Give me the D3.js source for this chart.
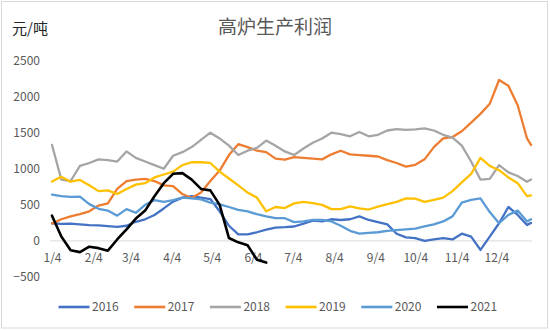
<!DOCTYPE html>
<html><head><meta charset="utf-8">
<script src="https://cdn.jsdelivr.net/npm/d3@7"></script>
<style>
body{margin:0;background:#fff}
svg{display:block}
text{font-family:"Noto Sans CJK SC","Noto Sans",sans-serif}
</style>
</head><body>
<svg id="c" width="550" height="330"></svg>
<script>
// ---- data ----
const dates = ["1/4","1/11","1/18","1/25","2/1","2/8","2/15","2/22","3/1","3/8","3/15","3/22","3/29",
"4/5","4/12","4/19","4/26","5/3","5/10","5/17","5/24","5/31","6/7","6/14","6/21","6/28",
"7/5","7/12","7/19","7/26","8/2","8/9","8/16","8/23","8/30","9/6","9/13","9/20","9/27",
"10/4","10/11","10/18","10/25","11/1","11/8","11/15","11/22","11/29","12/6","12/13","12/20","12/27","12/30"];
const xTickLabels = ["1/4","2/4","3/4","4/4","5/4","6/4","7/4","8/4","9/4","10/4","11/4","12/4"];
const yTicks = [-500,0,500,1000,1500,2000,2500];
const seriesNames = ["2016","2017","2018","2019","2020","2021"];
const seriesColors = ["#4472C4","#ED7D31","#A5A5A5","#FFC000","#5B9BD5","#000000"];

const s2016 = [245,235,240,230,220,215,205,195,210,265,300,360,450,545,600,620,600,580,410,210,90,90,120,155,185,190,200,240,280,270,300,290,300,340,290,260,230,100,50,40,0,20,40,20,100,60,-125,60,245,470,360,220,250];
const s2017 = [240,300,340,370,410,490,520,720,830,850,860,830,770,760,650,595,670,830,975,1190,1340,1300,1250,1230,1140,1125,1160,1150,1140,1130,1200,1250,1200,1190,1180,1170,1120,1080,1030,1055,1130,1300,1420,1440,1520,1640,1760,1900,2230,2150,1880,1420,1330];
const s2018 = [1330,850,830,1040,1080,1130,1120,1100,1240,1150,1100,1050,1000,1180,1230,1300,1400,1500,1420,1320,1190,1250,1290,1390,1320,1240,1190,1280,1360,1420,1500,1480,1450,1510,1450,1470,1530,1550,1540,1545,1560,1530,1470,1430,1320,1100,850,860,1050,950,900,820,850];
const s2019 = [824,890,820,845,770,690,700,650,720,780,800,880,920,960,1050,1090,1090,1080,960,865,770,670,600,410,470,455,520,540,525,500,440,440,480,450,435,475,510,540,590,585,540,570,600,690,810,930,1150,1040,980,880,800,620,630];
const s2020 = [640,620,610,615,510,445,420,350,440,390,500,565,540,565,600,590,575,530,505,470,430,410,370,340,315,315,260,270,290,290,270,210,140,100,110,120,140,150,160,170,200,230,270,340,530,570,590,400,245,360,420,270,300];
const s2021 = [350,60,-130,-155,-80,-100,-135,20,160,310,420,620,800,930,940,850,720,700,500,40,-20,-60,-260,-300,
null,null,null,null,null,null,null,null,null,null,null,null,null,null,null,null,null,null,null,null,null,null,null,null,null,null,null,null,null];
const seriesValues = [s2016,s2017,s2018,s2019,s2020,s2021];

// ---- chart ----
const svg = d3.select("#c");
const parse = s => { const [m,d] = s.split("/").map(Number); return new Date(2019, m-1, d); };
const x = d3.scaleTime().domain([new Date(2019,0,4), new Date(2019,11,30)]).range([52,531]);
const y = d3.scaleLinear().domain([-500,2500]).range([277,60.5]);

svg.append("rect").attr("x",1.5).attr("y",1.5).attr("width",546).attr("height",326.5)
  .attr("fill","#fff").attr("stroke","#d9d9d9").attr("stroke-width",1);

svg.append("text").attr("x",275).attr("y",34).attr("text-anchor","middle")
  .attr("font-size",19).attr("fill","#595959").text("高炉生产利润");
svg.append("text").attr("x",12).attr("y",34).attr("font-size",15).attr("fill","#262626").text("元/吨");

// y axis labels
const yAxis = d3.axisLeft(y).tickValues(yTicks).tickSize(0).tickPadding(0).tickFormat(d3.format("d"));
const gy = svg.append("g").attr("transform","translate(40,0)").call(yAxis);
gy.select(".domain").remove();
gy.selectAll("text").attr("font-size",12).attr("fill","#595959")
  .style("font-family",'"Noto Sans CJK SC","Noto Sans",sans-serif');

// zero line
svg.append("line").attr("x1",50).attr("x2",532).attr("y1",y(0)).attr("y2",y(0))
  .attr("stroke","#d9d9d9").attr("stroke-width",1);

// x axis labels
const xAxis = d3.axisBottom(x).tickValues(xTickLabels.map(parse)).tickSize(0).tickPadding(13)
  .tickFormat((d,i)=>xTickLabels[i]);
const gx = svg.append("g").attr("transform",`translate(0,${y(0)})`).call(xAxis);
gx.select(".domain").remove();
gx.selectAll("text").attr("font-size",12).attr("fill","#595959")
  .style("font-family",'"Noto Sans CJK SC","Noto Sans",sans-serif');

// lines
const line = d3.line().defined(d=>d.v!=null).x(d=>x(d.t)).y(d=>y(d.v));
seriesValues.forEach((vals,i)=>{
  const pts = vals.map((v,j)=>({t:parse(dates[j]), v}));
  svg.append("path").datum(pts).attr("d",line).attr("fill","none")
    .attr("stroke",seriesColors[i]).attr("stroke-width", i===5?2.6:2.3)
    .attr("stroke-linejoin","round").attr("stroke-linecap","round");
});

// legend
const lg = svg.append("g");
seriesNames.forEach((n,i)=>{
  const lx = 58.5 + i*75.7, ly = 307;
  lg.append("line").attr("x1",lx).attr("x2",lx+31).attr("y1",ly).attr("y2",ly)
    .attr("stroke",seriesColors[i]).attr("stroke-width",2.6);
  lg.append("text").attr("x",lx+33.5).attr("y",ly).attr("dy","0.35em")
    .attr("font-size",12).attr("fill","#595959").text(n);
});
</script>
</body></html>
